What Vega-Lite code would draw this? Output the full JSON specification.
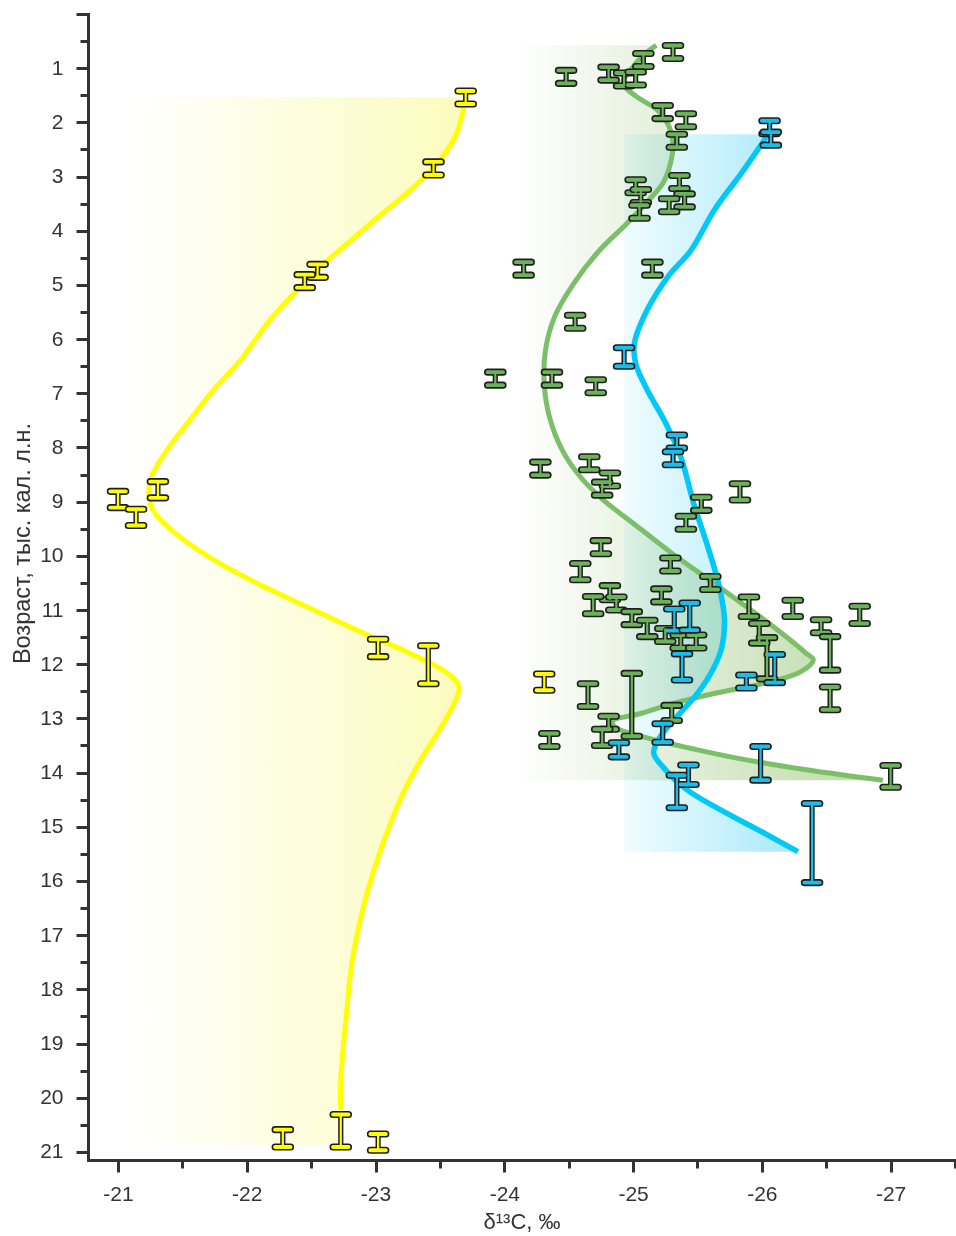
{
  "$schema": "https://vega.github.io/schema/vega-lite/v6.json",
  "width": 867,
  "height": 1146,
  "autosize": {"type": "none"},
  "padding": {"left": 88, "top": 14, "right": 1, "bottom": 76},
  "background": "white",
  "config": {"view": {"stroke": null}, "font": "Liberation Sans"},
  "datasets": {
    "pts": [
      {"s":"y","x":-23.70,"lo":1.42,"hi":1.66},
      {"s":"y","x":-23.45,"lo":2.73,"hi":2.97},
      {"s":"y","x":-22.55,"lo":4.62,"hi":4.86},
      {"s":"y","x":-22.45,"lo":4.81,"hi":5.05},
      {"s":"y","x":-21.00,"lo":8.81,"hi":9.11},
      {"s":"y","x":-21.31,"lo":8.63,"hi":8.93},
      {"s":"y","x":-21.14,"lo":9.14,"hi":9.44},
      {"s":"y","x":-23.02,"lo":11.54,"hi":11.86},
      {"s":"y","x":-23.41,"lo":11.66,"hi":12.36},
      {"s":"y","x":-24.31,"lo":12.18,"hi":12.48},
      {"s":"y","x":-22.28,"lo":20.59,"hi":20.91},
      {"s":"y","x":-22.73,"lo":20.31,"hi":20.91},
      {"s":"y","x":-23.02,"lo":20.67,"hi":20.97},
      {"s":"g","x":-25.31,"lo":0.58,"hi":0.82},
      {"s":"g","x":-25.08,"lo":0.73,"hi":0.97},
      {"s":"g","x":-24.48,"lo":1.04,"hi":1.28},
      {"s":"g","x":-24.81,"lo":0.98,"hi":1.22},
      {"s":"g","x":-24.93,"lo":1.09,"hi":1.33},
      {"s":"g","x":-25.02,"lo":1.07,"hi":1.31},
      {"s":"g","x":-25.23,"lo":1.69,"hi":1.93},
      {"s":"g","x":-25.41,"lo":1.84,"hi":2.08},
      {"s":"g","x":-25.34,"lo":2.22,"hi":2.46},
      {"s":"g","x":-25.02,"lo":3.06,"hi":3.30},
      {"s":"g","x":-25.06,"lo":3.24,"hi":3.48},
      {"s":"g","x":-25.05,"lo":3.53,"hi":3.77},
      {"s":"g","x":-25.36,"lo":2.98,"hi":3.22},
      {"s":"g","x":-25.40,"lo":3.32,"hi":3.56},
      {"s":"g","x":-25.28,"lo":3.41,"hi":3.65},
      {"s":"g","x":-24.15,"lo":4.58,"hi":4.82},
      {"s":"g","x":-25.15,"lo":4.58,"hi":4.82},
      {"s":"g","x":-24.55,"lo":5.56,"hi":5.80},
      {"s":"g","x":-23.93,"lo":6.61,"hi":6.85},
      {"s":"g","x":-24.37,"lo":6.61,"hi":6.85},
      {"s":"g","x":-24.71,"lo":6.75,"hi":6.99},
      {"s":"g","x":-24.28,"lo":8.27,"hi":8.51},
      {"s":"g","x":-24.66,"lo":8.17,"hi":8.41},
      {"s":"g","x":-24.82,"lo":8.47,"hi":8.71},
      {"s":"g","x":-24.76,"lo":8.64,"hi":8.88},
      {"s":"g","x":-25.83,"lo":8.67,"hi":8.97},
      {"s":"g","x":-25.53,"lo":8.92,"hi":9.16},
      {"s":"g","x":-25.41,"lo":9.27,"hi":9.51},
      {"s":"g","x":-24.75,"lo":9.72,"hi":9.96},
      {"s":"g","x":-24.59,"lo":10.14,"hi":10.44},
      {"s":"g","x":-25.29,"lo":10.04,"hi":10.28},
      {"s":"g","x":-25.60,"lo":10.38,"hi":10.62},
      {"s":"g","x":-24.82,"lo":10.55,"hi":10.81},
      {"s":"g","x":-24.69,"lo":10.75,"hi":11.07},
      {"s":"g","x":-24.87,"lo":10.76,"hi":11.00},
      {"s":"g","x":-25.22,"lo":10.61,"hi":10.85},
      {"s":"g","x":-24.99,"lo":11.03,"hi":11.27},
      {"s":"g","x":-25.11,"lo":11.19,"hi":11.49},
      {"s":"g","x":-25.25,"lo":11.34,"hi":11.58},
      {"s":"g","x":-25.37,"lo":11.46,"hi":11.70},
      {"s":"g","x":-25.49,"lo":11.46,"hi":11.70},
      {"s":"g","x":-25.90,"lo":10.76,"hi":11.12},
      {"s":"g","x":-26.24,"lo":10.82,"hi":11.12},
      {"s":"g","x":-26.76,"lo":10.93,"hi":11.25},
      {"s":"g","x":-26.46,"lo":11.18,"hi":11.42},
      {"s":"g","x":-25.98,"lo":11.25,"hi":11.61},
      {"s":"g","x":-26.53,"lo":11.49,"hi":12.11},
      {"s":"g","x":-26.04,"lo":11.51,"hi":12.27},
      {"s":"g","x":-24.65,"lo":12.36,"hi":12.78},
      {"s":"g","x":-24.99,"lo":12.17,"hi":13.33},
      {"s":"g","x":-26.53,"lo":12.42,"hi":12.84},
      {"s":"g","x":-25.30,"lo":12.76,"hi":13.04},
      {"s":"g","x":-24.81,"lo":12.96,"hi":13.20},
      {"s":"g","x":-24.76,"lo":13.20,"hi":13.50},
      {"s":"g","x":-24.35,"lo":13.28,"hi":13.52},
      {"s":"g","x":-27.00,"lo":13.87,"hi":14.27},
      {"s":"b","x":-26.06,"lo":1.97,"hi":2.21},
      {"s":"b","x":-26.07,"lo":2.18,"hi":2.42},
      {"s":"b","x":-24.93,"lo":6.16,"hi":6.50},
      {"s":"b","x":-25.34,"lo":7.77,"hi":8.01},
      {"s":"b","x":-25.31,"lo":8.08,"hi":8.32},
      {"s":"b","x":-25.32,"lo":10.98,"hi":11.38},
      {"s":"b","x":-25.44,"lo":10.87,"hi":11.37},
      {"s":"b","x":-25.38,"lo":11.81,"hi":12.29},
      {"s":"b","x":-26.10,"lo":11.82,"hi":12.34},
      {"s":"b","x":-25.88,"lo":12.20,"hi":12.44},
      {"s":"b","x":-25.23,"lo":13.10,"hi":13.44},
      {"s":"b","x":-24.89,"lo":13.45,"hi":13.71},
      {"s":"b","x":-25.99,"lo":13.52,"hi":14.14},
      {"s":"b","x":-25.43,"lo":13.86,"hi":14.22},
      {"s":"b","x":-25.34,"lo":14.05,"hi":14.65},
      {"s":"b","x":-26.39,"lo":14.57,"hi":16.03}
    ],
    "curves": [
      {"s":"y","x":-23.70,"y":1.535},{"s":"y","x":-23.63,"y":2.20},{"s":"y","x":-23.50,"y":2.70},
      {"s":"y","x":-23.30,"y":3.19},{"s":"y","x":-23.04,"y":3.71},{"s":"y","x":-22.75,"y":4.30},
      {"s":"y","x":-22.57,"y":4.67},{"s":"y","x":-22.39,"y":5.10},{"s":"y","x":-22.18,"y":5.65},
      {"s":"y","x":-21.95,"y":6.39},{"s":"y","x":-21.72,"y":7.00},{"s":"y","x":-21.56,"y":7.49},
      {"s":"y","x":-21.38,"y":8.05},{"s":"y","x":-21.26,"y":8.54},{"s":"y","x":-21.24,"y":8.91},
      {"s":"y","x":-21.29,"y":9.22},{"s":"y","x":-21.48,"y":9.65},{"s":"y","x":-21.79,"y":10.14},
      {"s":"y","x":-22.16,"y":10.60},{"s":"y","x":-22.52,"y":11.00},{"s":"y","x":-22.91,"y":11.43},
      {"s":"y","x":-23.27,"y":11.80},{"s":"y","x":-23.56,"y":12.17},{"s":"y","x":-23.65,"y":12.42},
      {"s":"y","x":-23.61,"y":12.72},{"s":"y","x":-23.48,"y":13.28},{"s":"y","x":-23.35,"y":13.77},
      {"s":"y","x":-23.19,"y":14.51},{"s":"y","x":-23.04,"y":15.43},{"s":"y","x":-22.92,"y":16.35},
      {"s":"y","x":-22.82,"y":17.46},{"s":"y","x":-22.77,"y":18.56},{"s":"y","x":-22.73,"y":19.67},
      {"s":"y","x":-22.73,"y":20.22},{"s":"y","x":-22.73,"y":20.87,"a":1},
      {"s":"g","x":-25.18,"y":0.576},{"s":"g","x":-25.08,"y":0.76},{"s":"g","x":-24.99,"y":1.005},
      {"s":"g","x":-24.92,"y":1.28},{"s":"g","x":-25.03,"y":1.53},{"s":"g","x":-25.19,"y":1.775},
      {"s":"g","x":-25.28,"y":2.08},{"s":"g","x":-25.31,"y":2.39},{"s":"g","x":-25.29,"y":2.76},
      {"s":"g","x":-25.23,"y":3.13},{"s":"g","x":-25.12,"y":3.44},{"s":"g","x":-24.95,"y":3.87},
      {"s":"g","x":-24.74,"y":4.36},{"s":"g","x":-24.54,"y":4.97},
      {"s":"g","x":-24.39,"y":5.59},{"s":"g","x":-24.32,"y":6.20},{"s":"g","x":-24.31,"y":6.82},
      {"s":"g","x":-24.35,"y":7.43},{"s":"g","x":-24.45,"y":8.05},{"s":"g","x":-24.59,"y":8.54},
      {"s":"g","x":-24.77,"y":8.97},{"s":"g","x":-24.98,"y":9.36},{"s":"g","x":-25.30,"y":9.95},
      {"s":"g","x":-25.56,"y":10.39},{"s":"g","x":-25.81,"y":10.82},{"s":"g","x":-26.09,"y":11.31},
      {"s":"g","x":-26.34,"y":11.79},{"s":"g","x":-26.40,"y":11.92},{"s":"g","x":-26.30,"y":12.14},
      {"s":"g","x":-26.02,"y":12.35},{"s":"g","x":-25.63,"y":12.54},{"s":"g","x":-25.32,"y":12.72},
      {"s":"g","x":-25.06,"y":12.91},{"s":"g","x":-24.84,"y":13.05},{"s":"g","x":-24.86,"y":13.16},
      {"s":"g","x":-25.11,"y":13.36},{"s":"g","x":-25.50,"y":13.58},{"s":"g","x":-25.89,"y":13.77},
      {"s":"g","x":-26.41,"y":13.97},{"s":"g","x":-26.94,"y":14.14},
      {"s":"b","x":-26.05,"y":2.22},{"s":"b","x":-25.84,"y":2.94},{"s":"b","x":-25.63,"y":3.62},
      {"s":"b","x":-25.45,"y":4.36},{"s":"b","x":-25.27,"y":4.85},{"s":"b","x":-25.11,"y":5.46},
      {"s":"b","x":-25.01,"y":6.08},{"s":"b","x":-25.02,"y":6.45},{"s":"b","x":-25.11,"y":6.94},
      {"s":"b","x":-25.24,"y":7.49},{"s":"b","x":-25.37,"y":8.17},{"s":"b","x":-25.47,"y":9.03},
      {"s":"b","x":-25.58,"y":9.83},{"s":"b","x":-25.67,"y":10.57},{"s":"b","x":-25.71,"y":11.18},
      {"s":"b","x":-25.69,"y":11.68},{"s":"b","x":-25.63,"y":12.05},{"s":"b","x":-25.50,"y":12.54},
      {"s":"b","x":-25.34,"y":12.97},{"s":"b","x":-25.21,"y":13.34},{"s":"b","x":-25.16,"y":13.64},
      {"s":"b","x":-25.23,"y":13.89},{"s":"b","x":-25.42,"y":14.32},{"s":"b","x":-25.68,"y":14.69},
      {"s":"b","x":-26.02,"y":15.12},{"s":"b","x":-26.28,"y":15.46}
    ]
  },
  "encoding": {
    "x": {"field": "x", "type": "quantitative", "scale": {"domain": [-27.5, -20.767], "reverse": true, "zero": false, "nice": false}, "axis": null},
    "y": {"field": "y", "type": "quantitative", "scale": {"domain": [0, 21.15], "reverse": true, "zero": false, "nice": false}, "axis": null}
  },
  "resolve": {"axis": {"x": "independent", "y": "independent"}},
  "layer": [
    {
      "data": {"name": "curves"},
      "transform": [{"filter": "datum.s == 'y'"}],
      "mark": {"type": "area", "orient": "horizontal", "interpolate": "catmull-rom",
        "color": {"gradient": "linear", "x1": 0, "y1": 0, "x2": 1, "y2": 0,
          "stops": [{"offset": 0, "color": "#ffffff"}, {"offset": 0.2, "color": "#fefef2"}, {"offset": 1, "color": "#fbfbbd"}]}},
      "encoding": {
        "x": {"field": "x", "type": "quantitative", "stack": null,
          "scale": {"domain": [-27.5, -20.767], "reverse": true, "zero": false, "nice": false},
          "axis": {"orient": "bottom", "values": [-21, -22, -23, -24, -25, -26, -27], "title": "δ¹³C, ‰",
            "labelExpr": "'' + datum.value",
            "domainColor": "#333333", "domainWidth": 3, "domainCap": "square", "tickColor": "#333333", "tickWidth": 3, "tickSize": 12,
            "labelFontSize": 21, "labelColor": "#333333", "labelPadding": 11, "labelFont": "Liberation Sans",
            "titleFontSize": 22, "titleFontWeight": "normal", "titleColor": "#333333", "titlePadding": 7, "titleFont": "Liberation Sans", "grid": false}},
        "x2": {"datum": -21.08},
        "y": {"field": "y", "type": "quantitative",
          "scale": {"domain": [0, 21.15], "reverse": true, "zero": false, "nice": false},
          "axis": {"orient": "left", "values": [0,1,2,3,4,5,6,7,8,9,10,11,12,13,14,15,16,17,18,19,20,21],
            "labelExpr": "datum.value == 0 ? '' : '' + datum.value", "title": "Возраст, тыс. кал. л.н.",
            "domainColor": "#333333", "domainWidth": 3, "domainCap": "square", "tickColor": "#333333", "tickWidth": 3, "tickSize": 12,
            "labelFontSize": 21, "labelColor": "#333333", "labelPadding": 13, "labelFont": "Liberation Sans",
            "titleFontSize": 23.5, "titleFontWeight": "normal", "titleColor": "#333333", "titleFont": "Liberation Sans",
            "titleX": -66, "titleY": 529, "titleBaseline": "middle", "titleAngle": 270, "grid": false}}
      }
    },
    {
      "data": {"name": "curves"},
      "transform": [{"filter": "datum.s == 'g'"}],
      "mark": {"type": "area", "orient": "horizontal", "interpolate": "catmull-rom", "blend": "multiply",
        "color": {"gradient": "linear", "x1": 0, "y1": 0, "x2": 1, "y2": 0,
          "stops": [{"offset": 0, "color": "#ffffff"}, {"offset": 1, "color": "#bcd9a6"}]}},
      "encoding": {
        "x": {"field": "x", "type": "quantitative", "stack": null,
          "scale": {"domain": [-27.5, -20.767], "reverse": true, "zero": false, "nice": false},
          "axis": {"orient": "bottom", "values": [-21.5, -22.5, -23.5, -24.5, -25.5, -26.5, -27.5], "labels": false, "domain": false, "title": null,
            "tickColor": "#333333", "tickWidth": 3, "tickSize": 8, "grid": false}},
        "x2": {"datum": -24.1},
        "y": {"field": "y", "type": "quantitative",
          "scale": {"domain": [0, 21.15], "reverse": true, "zero": false, "nice": false},
          "axis": {"orient": "left", "values": [0.5,1.5,2.5,3.5,4.5,5.5,6.5,7.5,8.5,9.5,10.5,11.5,12.5,13.5,14.5,15.5,16.5,17.5,18.5,19.5,20.5],
            "labels": false, "domain": false, "title": null, "tickColor": "#333333", "tickWidth": 3, "tickSize": 8, "grid": false}}
      }
    },
    {
      "data": {"name": "curves"},
      "transform": [{"filter": "datum.s == 'b'"}],
      "mark": {"type": "area", "orient": "horizontal", "interpolate": "catmull-rom", "blend": "multiply",
        "color": {"gradient": "linear", "x1": 0, "y1": 0, "x2": 1, "y2": 0,
          "stops": [{"offset": 0, "color": "#f0fcff"}, {"offset": 1, "color": "#a8e9f9"}]}},
      "encoding": {
        "x": {"field": "x", "type": "quantitative", "stack": null,
          "scale": {"domain": [-27.5, -20.767], "reverse": true, "zero": false, "nice": false}, "axis": null},
        "x2": {"datum": -24.93}
      }
    },
    {
      "data": {"name": "curves"},
      "transform": [{"filter": "datum.s == 'y' && datum.a != 1"}],
      "mark": {"type": "line", "interpolate": "catmull-rom", "color": "#ffff00", "strokeWidth": 5},
      "encoding": {"order": {"field": "y", "type": "quantitative"}}
    },
    {
      "data": {"name": "curves"},
      "transform": [{"filter": "datum.s == 'g'"}],
      "mark": {"type": "line", "interpolate": "catmull-rom", "color": "#7cbf69", "strokeWidth": 5},
      "encoding": {"order": {"field": "y", "type": "quantitative"}}
    },
    {
      "data": {"name": "curves"},
      "transform": [{"filter": "datum.s == 'b'"}],
      "mark": {"type": "line", "interpolate": "catmull-rom", "color": "#00c8f7", "strokeWidth": 5.5},
      "encoding": {"order": {"field": "y", "type": "quantitative"}}
    },
    {
      "data": {"name": "pts"},
      "mark": {"type": "rule", "color": "#1e1e1e", "strokeWidth": 5.2},
      "encoding": {
        "y": {"field": "lo", "type": "quantitative", "scale": {"domain": [0, 21.15], "reverse": true, "zero": false, "nice": false}, "axis": null},
        "y2": {"field": "hi"}
      }
    },
    {
      "data": {"name": "pts"},
      "transform": [{"fold": ["lo", "hi"], "as": ["k", "v"]}],
      "mark": {"type": "tick", "orient": "horizontal", "size": 21, "thickness": 5.5, "cornerRadius": 2.75, "stroke": "#1e1e1e", "strokeWidth": 1.6, "opacity": 1},
      "encoding": {
        "y": {"field": "v", "type": "quantitative", "scale": {"domain": [0, 21.15], "reverse": true, "zero": false, "nice": false}, "axis": null},
        "fill": {"field": "s", "type": "nominal", "scale": {"domain": ["y", "g", "b"], "range": ["#ffff00", "#6cb25a", "#19bfea"]}, "legend": null}
      }
    },
    {
      "data": {"name": "pts"},
      "mark": {"type": "rule", "strokeWidth": 2.2},
      "encoding": {
        "y": {"field": "lo", "type": "quantitative", "scale": {"domain": [0, 21.15], "reverse": true, "zero": false, "nice": false}, "axis": null},
        "y2": {"field": "hi"},
        "color": {"field": "s", "type": "nominal", "scale": {"domain": ["y", "g", "b"], "range": ["#ffff00", "#6cb25a", "#19bfea"]}, "legend": null}
      }
    }
  ]
}
